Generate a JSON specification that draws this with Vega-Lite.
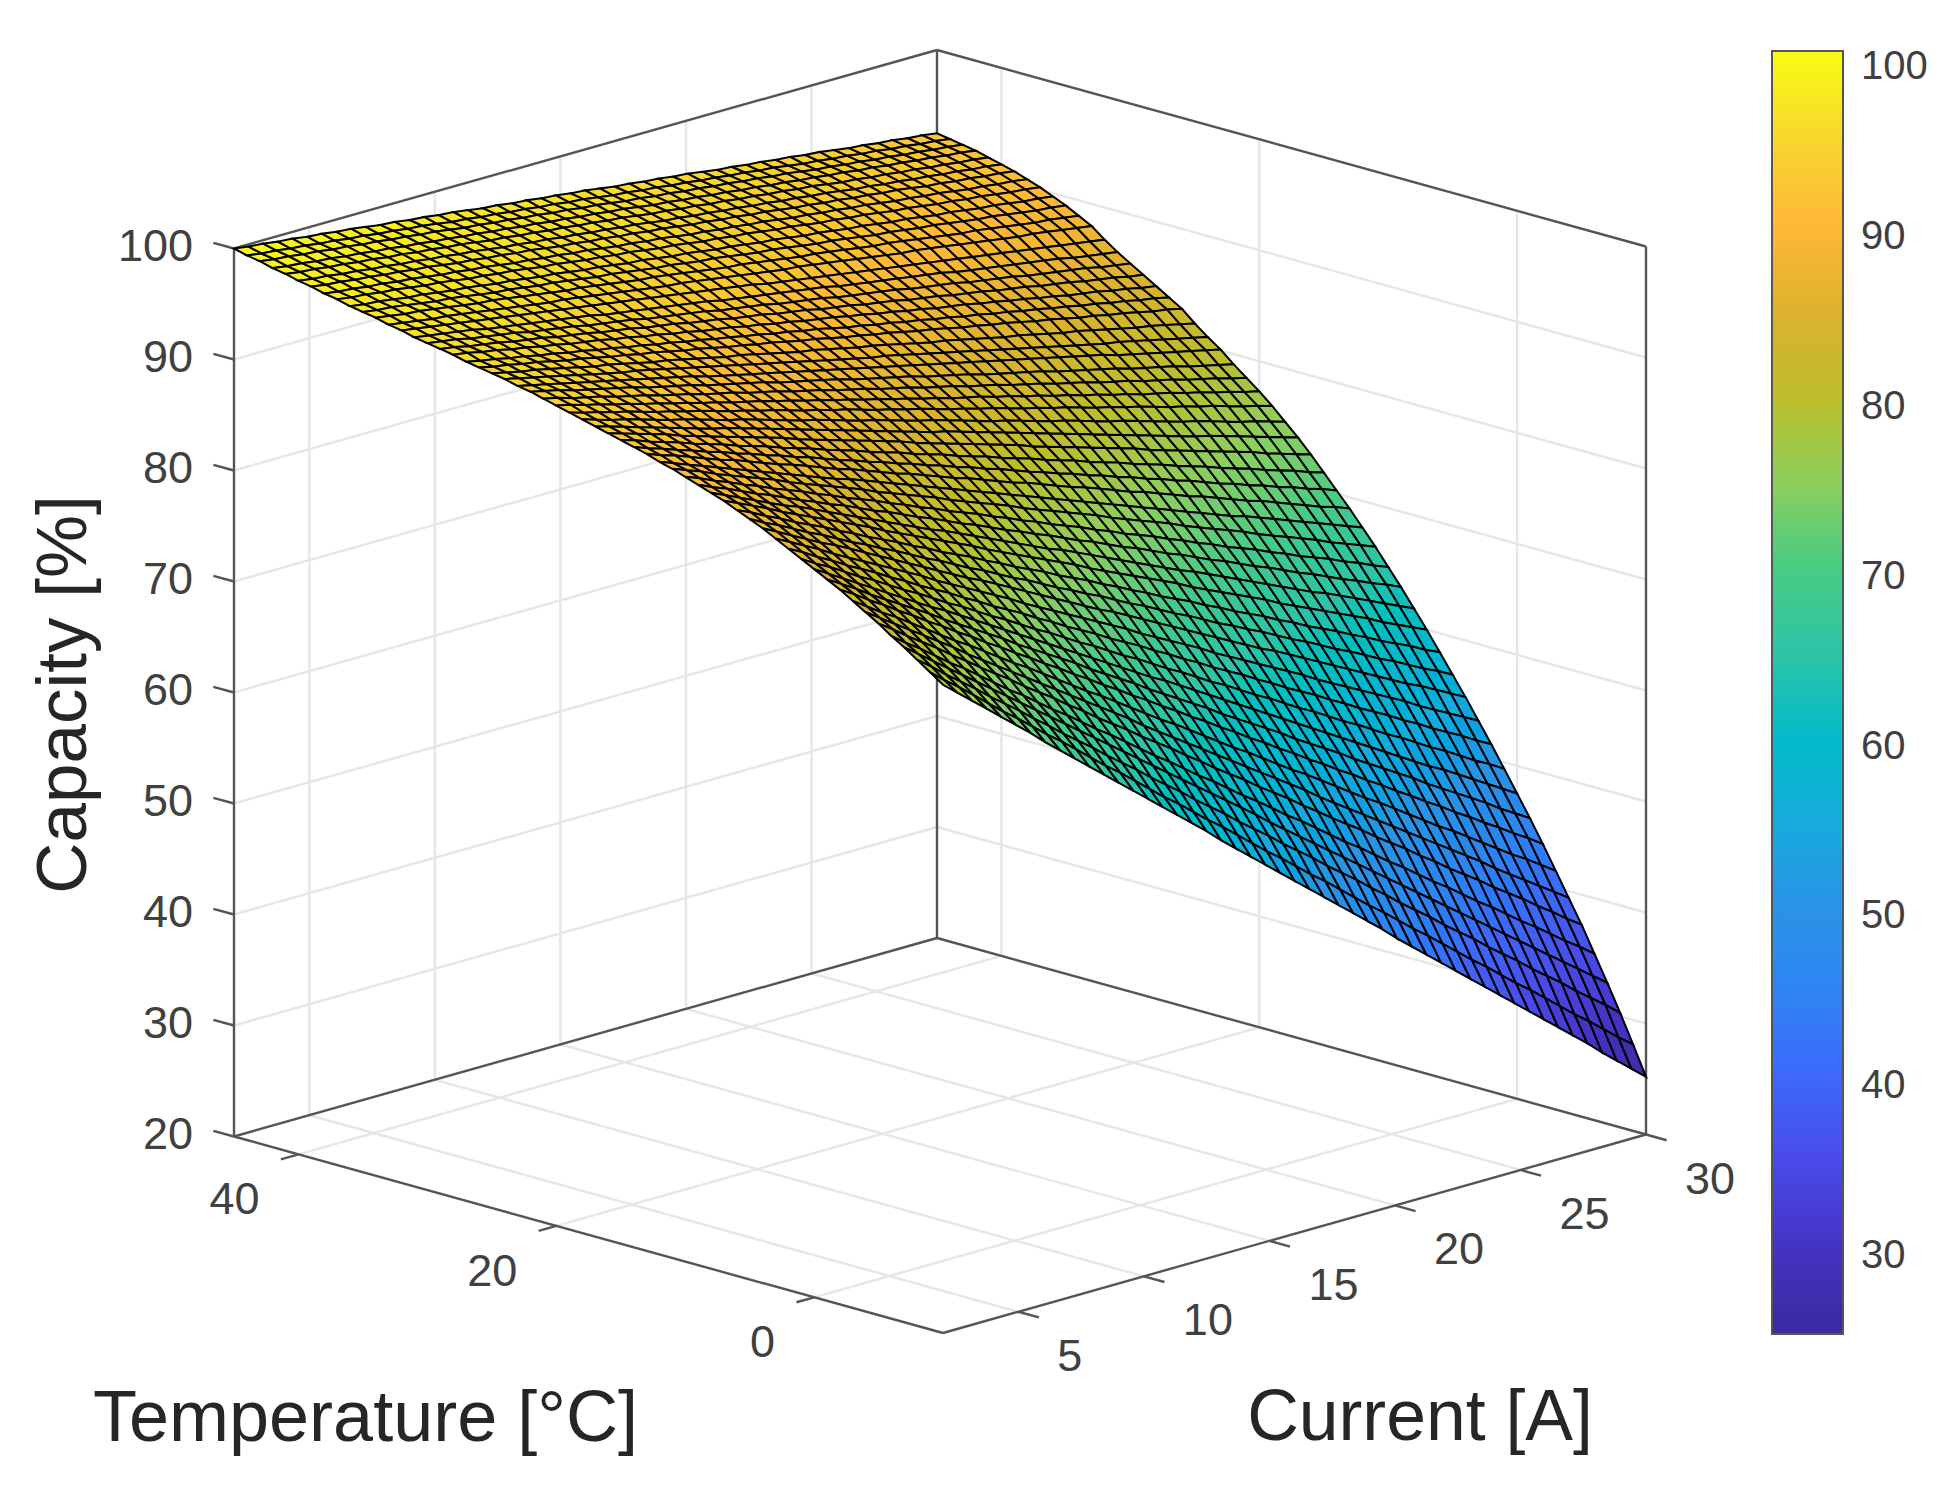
{"$schema":"https://vega.github.io/schema/vega-lite/v6.json","width":1953,"height":1488,"autosize":{"type":"fit","contains":"padding"},"padding":0,"background":"white","config":{"view":{"stroke":null},"font":"Liberation Sans"},"encoding":{"x":{"field":"px","type":"quantitative","scale":{"domain":[0,1953],"nice":false,"zero":false},"axis":null},"y":{"field":"py","type":"quantitative","scale":{"domain":[1488,0],"nice":false,"zero":false},"axis":null}},"layer":[{"data":{"values":[{"T":45,"I":2,"Z":30,"T2":45,"I2":30,"Z2":30,"kind":"grid"},{"T":45,"I":30,"Z":30,"T2":-10,"I2":30,"Z2":30,"kind":"grid"},{"T":45,"I":2,"Z":40,"T2":45,"I2":30,"Z2":40,"kind":"grid"},{"T":45,"I":30,"Z":40,"T2":-10,"I2":30,"Z2":40,"kind":"grid"},{"T":45,"I":2,"Z":50,"T2":45,"I2":30,"Z2":50,"kind":"grid"},{"T":45,"I":30,"Z":50,"T2":-10,"I2":30,"Z2":50,"kind":"grid"},{"T":45,"I":2,"Z":60,"T2":45,"I2":30,"Z2":60,"kind":"grid"},{"T":45,"I":30,"Z":60,"T2":-10,"I2":30,"Z2":60,"kind":"grid"},{"T":45,"I":2,"Z":70,"T2":45,"I2":30,"Z2":70,"kind":"grid"},{"T":45,"I":30,"Z":70,"T2":-10,"I2":30,"Z2":70,"kind":"grid"},{"T":45,"I":2,"Z":80,"T2":45,"I2":30,"Z2":80,"kind":"grid"},{"T":45,"I":30,"Z":80,"T2":-10,"I2":30,"Z2":80,"kind":"grid"},{"T":45,"I":2,"Z":90,"T2":45,"I2":30,"Z2":90,"kind":"grid"},{"T":45,"I":30,"Z":90,"T2":-10,"I2":30,"Z2":90,"kind":"grid"},{"T":45,"I":5,"Z":20,"T2":45,"I2":5,"Z2":100,"kind":"grid"},{"T":45,"I":5,"Z":20,"T2":-10,"I2":5,"Z2":20,"kind":"grid"},{"T":45,"I":10,"Z":20,"T2":45,"I2":10,"Z2":100,"kind":"grid"},{"T":45,"I":10,"Z":20,"T2":-10,"I2":10,"Z2":20,"kind":"grid"},{"T":45,"I":15,"Z":20,"T2":45,"I2":15,"Z2":100,"kind":"grid"},{"T":45,"I":15,"Z":20,"T2":-10,"I2":15,"Z2":20,"kind":"grid"},{"T":45,"I":20,"Z":20,"T2":45,"I2":20,"Z2":100,"kind":"grid"},{"T":45,"I":20,"Z":20,"T2":-10,"I2":20,"Z2":20,"kind":"grid"},{"T":45,"I":25,"Z":20,"T2":45,"I2":25,"Z2":100,"kind":"grid"},{"T":45,"I":25,"Z":20,"T2":-10,"I2":25,"Z2":20,"kind":"grid"},{"T":40,"I":2,"Z":20,"T2":40,"I2":30,"Z2":20,"kind":"grid"},{"T":40,"I":30,"Z":20,"T2":40,"I2":30,"Z2":100,"kind":"grid"},{"T":20,"I":2,"Z":20,"T2":20,"I2":30,"Z2":20,"kind":"grid"},{"T":20,"I":30,"Z":20,"T2":20,"I2":30,"Z2":100,"kind":"grid"},{"T":0,"I":2,"Z":20,"T2":0,"I2":30,"Z2":20,"kind":"grid"},{"T":0,"I":30,"Z":20,"T2":0,"I2":30,"Z2":100,"kind":"grid"},{"T":45,"I":2,"Z":20,"T2":45,"I2":2,"Z2":100,"kind":"box"},{"T":45,"I":30,"Z":20,"T2":45,"I2":30,"Z2":100,"kind":"box"},{"T":-10,"I":30,"Z":20,"T2":-10,"I2":30,"Z2":100,"kind":"box"},{"T":45,"I":2,"Z":20,"T2":-10,"I2":2,"Z2":20,"kind":"box"},{"T":-10,"I":2,"Z":20,"T2":-10,"I2":30,"Z2":20,"kind":"box"},{"T":45,"I":2,"Z":20,"T2":45,"I2":30,"Z2":20,"kind":"box"},{"T":45,"I":30,"Z":20,"T2":-10,"I2":30,"Z2":20,"kind":"box"},{"T":45,"I":2,"Z":100,"T2":45,"I2":30,"Z2":100,"kind":"box"},{"T":45,"I":30,"Z":100,"T2":-10,"I2":30,"Z2":100,"kind":"box"},{"T":45,"I":2,"Z":20,"T2":46.6,"I2":2,"Z2":20,"kind":"box"},{"T":45,"I":2,"Z":30,"T2":46.6,"I2":2,"Z2":30,"kind":"box"},{"T":45,"I":2,"Z":40,"T2":46.6,"I2":2,"Z2":40,"kind":"box"},{"T":45,"I":2,"Z":50,"T2":46.6,"I2":2,"Z2":50,"kind":"box"},{"T":45,"I":2,"Z":60,"T2":46.6,"I2":2,"Z2":60,"kind":"box"},{"T":45,"I":2,"Z":70,"T2":46.6,"I2":2,"Z2":70,"kind":"box"},{"T":45,"I":2,"Z":80,"T2":46.6,"I2":2,"Z2":80,"kind":"box"},{"T":45,"I":2,"Z":90,"T2":46.6,"I2":2,"Z2":90,"kind":"box"},{"T":45,"I":2,"Z":100,"T2":46.6,"I2":2,"Z2":100,"kind":"box"},{"T":40,"I":2,"Z":20,"T2":40,"I2":1.3,"Z2":20,"kind":"box"},{"T":20,"I":2,"Z":20,"T2":20,"I2":1.3,"Z2":20,"kind":"box"},{"T":0,"I":2,"Z":20,"T2":0,"I2":1.3,"Z2":20,"kind":"box"},{"T":-10,"I":5,"Z":20,"T2":-11.6,"I2":5,"Z2":20,"kind":"box"},{"T":-10,"I":10,"Z":20,"T2":-11.6,"I2":10,"Z2":20,"kind":"box"},{"T":-10,"I":15,"Z":20,"T2":-11.6,"I2":15,"Z2":20,"kind":"box"},{"T":-10,"I":20,"Z":20,"T2":-11.6,"I2":20,"Z2":20,"kind":"box"},{"T":-10,"I":25,"Z":20,"T2":-11.6,"I2":25,"Z2":20,"kind":"box"},{"T":-10,"I":30,"Z":20,"T2":-11.6,"I2":30,"Z2":20,"kind":"box"}]},"transform":[{"calculate":"234+12.891*(45-datum.T)+25.107*(datum.I-2)","as":"px"},{"calculate":"1136.5+3.573*(45-datum.T)-7.089*(datum.I-2)-11.1*(datum.Z-20)","as":"py"},{"calculate":"234+12.891*(45-datum.T2)+25.107*(datum.I2-2)","as":"qx"},{"calculate":"1136.5+3.573*(45-datum.T2)-7.089*(datum.I2-2)-11.1*(datum.Z2-20)","as":"qy"}],"mark":{"type":"rule","strokeWidth":2.4},"encoding":{"x2":{"field":"qx"},"y2":{"field":"qy"},"color":{"field":"kind","type":"nominal","legend":null,"scale":{"domain":["grid","box"],"range":["#e6e6e6","#555555"]}}}},{"data":{"values":[{"T":45,"I":2,"Z":20},{"T":45,"I":2,"Z":30},{"T":45,"I":2,"Z":40},{"T":45,"I":2,"Z":50},{"T":45,"I":2,"Z":60},{"T":45,"I":2,"Z":70},{"T":45,"I":2,"Z":80},{"T":45,"I":2,"Z":90},{"T":45,"I":2,"Z":100}]},"transform":[{"calculate":"234+12.891*(45-datum.T)+25.107*(datum.I-2)","as":"px"},{"calculate":"1136.5+3.573*(45-datum.T)-7.089*(datum.I-2)-11.1*(datum.Z-20)","as":"py"}],"mark":{"type":"text","align":"right","baseline":"middle","dx":-41,"dy":-2,"fontSize":45,"color":"#404040"},"encoding":{"text":{"field":"Z","type":"nominal"}}},{"data":{"values":[{"T":40,"I":2,"Z":20},{"T":20,"I":2,"Z":20},{"T":0,"I":2,"Z":20}]},"transform":[{"calculate":"234+12.891*(45-datum.T)+25.107*(datum.I-2)","as":"px"},{"calculate":"1136.5+3.573*(45-datum.T)-7.089*(datum.I-2)-11.1*(datum.Z-20)","as":"py"}],"mark":{"type":"text","align":"right","baseline":"middle","dx":-39,"dy":46,"fontSize":45,"color":"#404040"},"encoding":{"text":{"field":"T","type":"nominal"}}},{"data":{"values":[{"T":-10,"I":5,"Z":20},{"T":-10,"I":10,"Z":20},{"T":-10,"I":15,"Z":20},{"T":-10,"I":20,"Z":20},{"T":-10,"I":25,"Z":20},{"T":-10,"I":30,"Z":20}]},"transform":[{"calculate":"234+12.891*(45-datum.T)+25.107*(datum.I-2)","as":"px"},{"calculate":"1136.5+3.573*(45-datum.T)-7.089*(datum.I-2)-11.1*(datum.Z-20)","as":"py"}],"mark":{"type":"text","align":"left","baseline":"middle","dx":39,"dy":45,"fontSize":45,"color":"#404040"},"encoding":{"text":{"field":"I","type":"nominal"}}},{"data":{"values":[{"T":17.5,"I":2,"Z":20,"label":"Temperature [°C]"}]},"transform":[{"calculate":"234+12.891*(45-datum.T)+25.107*(datum.I-2)","as":"px"},{"calculate":"1136.5+3.573*(45-datum.T)-7.089*(datum.I-2)-11.1*(datum.Z-20)","as":"py"}],"mark":{"type":"text","align":"center","baseline":"middle","dx":-223,"dy":184,"fontSize":72,"color":"#262626"},"encoding":{"text":{"field":"label","type":"nominal"}}},{"data":{"values":[{"T":-10,"I":16,"Z":20,"label":"Current [A]"}]},"transform":[{"calculate":"234+12.891*(45-datum.T)+25.107*(datum.I-2)","as":"px"},{"calculate":"1136.5+3.573*(45-datum.T)-7.089*(datum.I-2)-11.1*(datum.Z-20)","as":"py"}],"mark":{"type":"text","align":"center","baseline":"middle","dx":125.5,"dy":185,"fontSize":71.5,"color":"#262626"},"encoding":{"text":{"field":"label","type":"nominal"}}},{"data":{"values":[{"T":45,"I":2,"Z":60,"label":"Capacity [%]"}]},"transform":[{"calculate":"234+12.891*(45-datum.T)+25.107*(datum.I-2)","as":"px"},{"calculate":"1136.5+3.573*(45-datum.T)-7.089*(datum.I-2)-11.1*(datum.Z-20)","as":"py"}],"mark":{"type":"text","align":"center","baseline":"middle","angle":270,"dx":-2,"dy":-169,"fontSize":71,"color":"#262626"},"encoding":{"text":{"field":"label","type":"nominal"}}},{"data":{"values":[
{"j":0,"T":45,"z":[100,99.8,99.7,99.5,99.4,99.2,99.1,98.9,98.8,98.6,98.4,98.3,98.1,98,97.8,97.7,97.5,97.3,97.2,97,96.9,96.7,96.6,96.4,96.3,96.1,95.9,95.8,95.6,95.5,95.3,95.2,95,94.8,94.7,94.5,94.4,94.2,94.1,93.9,93.8,93.6,93.4,93.3,93.1,93,92.8,92.7,92.5]},
{"j":1,"T":44,"z":[99.7,99.5,99.4,99.2,99.1,98.9,98.8,98.6,98.5,98.3,98.2,98,97.9,97.7,97.5,97.4,97.2,97.1,96.9,96.8,96.6,96.5,96.3,96.2,96,95.8,95.7,95.5,95.4,95.2,95.1,94.9,94.8,94.6,94.5,94.3,94.2,94,93.8,93.7,93.5,93.4,93.2,93.1,92.9,92.8,92.6,92.5,92.3]},
{"j":2,"T":43,"z":[99.5,99.3,99.2,99,98.9,98.7,98.6,98.4,98.3,98.1,98,97.8,97.7,97.5,97.3,97.2,97,96.9,96.7,96.6,96.4,96.3,96.1,96,95.8,95.6,95.5,95.3,95.2,95,94.9,94.7,94.6,94.4,94.3,94.1,94,93.8,93.6,93.5,93.3,93.2,93,92.9,92.7,92.6,92.4,92.3,92.1]},
{"j":3,"T":42,"z":[99.2,99,98.9,98.7,98.6,98.4,98.3,98.1,98,97.8,97.7,97.5,97.4,97.2,97.1,96.9,96.8,96.6,96.5,96.3,96.2,96,95.9,95.7,95.6,95.4,95.2,95.1,94.9,94.8,94.6,94.5,94.3,94.2,94,93.9,93.7,93.6,93.4,93.3,93.1,93,92.8,92.7,92.5,92.4,92.2,92.1,91.9]},
{"j":4,"T":41,"z":[99,98.8,98.7,98.5,98.4,98.2,98.1,97.9,97.8,97.6,97.5,97.3,97.2,97,96.8,96.7,96.5,96.4,96.2,96.1,95.9,95.8,95.6,95.5,95.3,95.1,95,94.8,94.7,94.5,94.4,94.2,94.1,93.9,93.8,93.6,93.5,93.3,93.1,93,92.8,92.7,92.5,92.4,92.2,92.1,91.9,91.8,91.6]},
{"j":5,"T":40,"z":[98.7,98.5,98.4,98.2,98.1,97.9,97.8,97.6,97.5,97.3,97.2,97,96.9,96.7,96.5,96.4,96.2,96.1,95.9,95.8,95.6,95.5,95.3,95.2,95,94.8,94.7,94.5,94.4,94.2,94.1,93.9,93.8,93.6,93.5,93.3,93.2,93,92.8,92.7,92.5,92.4,92.2,92.1,91.9,91.8,91.6,91.5,91.3]},
{"j":6,"T":39,"z":[98.5,98.3,98.2,98,97.9,97.7,97.6,97.4,97.3,97.1,96.9,96.8,96.6,96.5,96.3,96.2,96,95.8,95.7,95.5,95.4,95.2,95.1,94.9,94.8,94.6,94.4,94.3,94.1,94,93.8,93.7,93.5,93.3,93.2,93,92.9,92.7,92.6,92.4,92.3,92.1,91.9,91.8,91.6,91.5,91.3,91.2,91]},
{"j":7,"T":38,"z":[98.2,98,97.9,97.7,97.6,97.4,97.3,97.1,96.9,96.8,96.6,96.5,96.3,96.1,96,95.8,95.7,95.5,95.4,95.2,95,94.9,94.7,94.6,94.4,94.2,94.1,93.9,93.8,93.6,93.5,93.3,93.1,93,92.8,92.7,92.5,92.4,92.2,92,91.9,91.7,91.6,91.4,91.2,91.1,90.9,90.8,90.6]},
{"j":8,"T":37,"z":[98,97.8,97.7,97.5,97.4,97.2,97,96.9,96.7,96.5,96.4,96.2,96.1,95.9,95.7,95.6,95.4,95.2,95.1,94.9,94.8,94.6,94.4,94.3,94.1,93.9,93.8,93.6,93.5,93.3,93.1,93,92.8,92.6,92.5,92.3,92.2,92,91.8,91.7,91.5,91.3,91.2,91,90.9,90.7,90.5,90.4,90.2]},
{"j":9,"T":36,"z":[97.7,97.5,97.4,97.2,97,96.9,96.7,96.5,96.4,96.2,96,95.9,95.7,95.5,95.4,95.2,95,94.9,94.7,94.5,94.4,94.2,94,93.9,93.7,93.5,93.4,93.2,93,92.9,92.7,92.5,92.4,92.2,92,91.9,91.7,91.5,91.4,91.2,91,90.9,90.7,90.5,90.4,90.2,90,89.9,89.7]},
{"j":10,"T":35,"z":[97.5,97.3,97.2,97,96.8,96.6,96.5,96.3,96.1,95.9,95.8,95.6,95.4,95.3,95.1,94.9,94.7,94.6,94.4,94.2,94,93.9,93.7,93.5,93.4,93.2,93,92.8,92.7,92.5,92.3,92.1,92,91.8,91.6,91.4,91.3,91.1,90.9,90.8,90.6,90.4,90.2,90.1,89.9,89.7,89.5,89.4,89.2]},
{"j":11,"T":34,"z":[97.3,97.1,96.9,96.8,96.6,96.4,96.2,96,95.9,95.7,95.5,95.3,95.1,94.9,94.8,94.6,94.4,94.2,94,93.9,93.7,93.5,93.3,93.1,92.9,92.8,92.6,92.4,92.2,92,91.9,91.7,91.5,91.3,91.1,91,90.8,90.6,90.4,90.2,90,89.9,89.7,89.5,89.3,89.1,89,88.8,88.6]},
{"j":12,"T":33,"z":[97,96.8,96.6,96.4,96.3,96.1,95.9,95.7,95.5,95.3,95.1,94.9,94.8,94.6,94.4,94.2,94,93.8,93.6,93.4,93.3,93.1,92.9,92.7,92.5,92.3,92.1,91.9,91.8,91.6,91.4,91.2,91,90.8,90.6,90.4,90.3,90.1,89.9,89.7,89.5,89.3,89.1,88.9,88.8,88.6,88.4,88.2,88]},
{"j":13,"T":32,"z":[96.8,96.6,96.4,96.2,96,95.8,95.6,95.4,95.2,95,94.8,94.6,94.4,94.2,94,93.8,93.6,93.4,93.2,93,92.8,92.6,92.4,92.2,92,91.7,91.5,91.3,91.1,90.9,90.7,90.5,90.3,90.1,89.9,89.7,89.5,89.3,89.1,88.9,88.7,88.5,88.3,88.1,87.9,87.7,87.5,87.3,87.1]},
{"j":14,"T":31,"z":[96.5,96.3,96.1,95.9,95.7,95.4,95.2,95,94.8,94.6,94.4,94.2,94,93.7,93.5,93.3,93.1,92.9,92.7,92.5,92.3,92,91.8,91.6,91.4,91.2,91,90.8,90.6,90.3,90.1,89.9,89.7,89.5,89.3,89.1,88.9,88.6,88.4,88.2,88,87.8,87.6,87.4,87.2,86.9,86.7,86.5,86.3]},
{"j":15,"T":30,"z":[96.3,96.1,95.9,95.6,95.4,95.2,95,94.7,94.5,94.3,94.1,93.8,93.6,93.4,93.2,92.9,92.7,92.5,92.3,92.1,91.8,91.6,91.4,91.2,90.9,90.7,90.5,90.3,90,89.8,89.6,89.4,89.2,88.9,88.7,88.5,88.3,88,87.8,87.6,87.4,87.1,86.9,86.7,86.5,86.3,86,85.8,85.6]},
{"j":16,"T":29,"z":[96.1,95.9,95.6,95.4,95.2,94.9,94.7,94.5,94.2,94,93.8,93.5,93.3,93.1,92.8,92.6,92.4,92.1,91.9,91.7,91.4,91.2,91,90.7,90.5,90.3,90,89.8,89.6,89.3,89.1,88.9,88.6,88.4,88.2,87.9,87.7,87.5,87.2,87,86.8,86.5,86.3,86.1,85.8,85.6,85.4,85.1,84.9]},
{"j":17,"T":28,"z":[95.9,95.7,95.4,95.2,94.9,94.7,94.4,94.2,93.9,93.7,93.5,93.2,93,92.7,92.5,92.2,92,91.7,91.5,91.3,91,90.8,90.5,90.3,90,89.8,89.6,89.3,89.1,88.8,88.6,88.3,88.1,87.8,87.6,87.4,87.1,86.9,86.6,86.4,86.1,85.9,85.6,85.4,85.2,84.9,84.7,84.4,84.2]},
{"j":18,"T":27,"z":[95.6,95.3,95.1,94.8,94.6,94.3,94.1,93.8,93.6,93.3,93.1,92.8,92.6,92.3,92.1,91.8,91.6,91.3,91.1,90.8,90.6,90.3,90.1,89.8,89.6,89.3,89,88.8,88.5,88.3,88,87.8,87.5,87.3,87,86.8,86.5,86.3,86,85.8,85.5,85.3,85,84.8,84.5,84.3,84,83.8,83.5]},
{"j":19,"T":26,"z":[95.4,95.1,94.9,94.6,94.4,94.1,93.8,93.6,93.3,93,92.8,92.5,92.3,92,91.7,91.5,91.2,90.9,90.7,90.4,90.2,89.9,89.6,89.4,89.1,88.8,88.6,88.3,88.1,87.8,87.5,87.3,87,86.7,86.5,86.2,86,85.7,85.4,85.2,84.9,84.6,84.4,84.1,83.9,83.6,83.3,83.1,82.8]},
{"j":20,"T":25,"z":[95.2,94.9,94.6,94.4,94.1,93.8,93.5,93.2,93,92.7,92.4,92.1,91.9,91.6,91.3,91,90.7,90.5,90.2,89.9,89.6,89.3,89.1,88.8,88.5,88.2,88,87.7,87.4,87.1,86.8,86.6,86.3,86,85.7,85.4,85.2,84.9,84.6,84.3,84.1,83.8,83.5,83.2,82.9,82.7,82.4,82.1,81.8]},
{"j":21,"T":24,"z":[95,94.7,94.4,94.1,93.8,93.5,93.2,92.9,92.6,92.4,92.1,91.8,91.5,91.2,90.9,90.6,90.3,90,89.7,89.4,89.1,88.8,88.5,88.2,87.9,87.6,87.4,87.1,86.8,86.5,86.2,85.9,85.6,85.3,85,84.7,84.4,84.1,83.8,83.5,83.2,82.9,82.7,82.4,82.1,81.8,81.5,81.2,80.9]},
{"j":22,"T":23,"z":[94.7,94.4,94.1,93.8,93.5,93.2,92.9,92.6,92.3,92,91.7,91.4,91.1,90.7,90.4,90.1,89.8,89.5,89.2,88.9,88.6,88.3,88,87.7,87.4,87.1,86.8,86.5,86.2,85.9,85.6,85.3,85,84.7,84.4,84.1,83.8,83.5,83.2,82.9,82.6,82.2,81.9,81.6,81.3,81,80.7,80.4,80.1]},
{"j":23,"T":22,"z":[94.5,94.2,93.9,93.5,93.2,92.9,92.6,92.3,91.9,91.6,91.3,91,90.6,90.3,90,89.7,89.4,89,88.7,88.4,88.1,87.8,87.4,87.1,86.8,86.5,86.2,85.8,85.5,85.2,84.9,84.5,84.2,83.9,83.6,83.3,82.9,82.6,82.3,82,81.7,81.3,81,80.7,80.4,80,79.7,79.4,79.1]},
{"j":24,"T":21,"z":[94.2,93.9,93.5,93.2,92.9,92.5,92.2,91.9,91.5,91.2,90.9,90.5,90.2,89.9,89.5,89.2,88.9,88.5,88.2,87.9,87.5,87.2,86.9,86.5,86.2,85.9,85.5,85.2,84.9,84.5,84.2,83.9,83.5,83.2,82.9,82.5,82.2,81.9,81.5,81.2,80.9,80.5,80.2,79.9,79.5,79.2,78.9,78.5,78.2]},
{"j":25,"T":20,"z":[93.9,93.6,93.2,92.9,92.5,92.2,91.8,91.5,91.1,90.8,90.4,90.1,89.7,89.4,89.1,88.7,88.4,88,87.7,87.3,87,86.6,86.3,85.9,85.6,85.2,84.9,84.5,84.2,83.9,83.5,83.2,82.8,82.5,82.1,81.8,81.4,81.1,80.7,80.4,80,79.7,79.4,79,78.7,78.3,78,77.6,77.3]},
{"j":26,"T":19,"z":[93.6,93.2,92.9,92.5,92.2,91.8,91.4,91.1,90.7,90.4,90,89.6,89.3,88.9,88.6,88.2,87.8,87.5,87.1,86.8,86.4,86,85.7,85.3,85,84.6,84.2,83.9,83.5,83.2,82.8,82.4,82.1,81.7,81.4,81,80.6,80.3,79.9,79.6,79.2,78.8,78.5,78.1,77.8,77.4,77,76.7,76.3]},
{"j":27,"T":18,"z":[93.3,92.9,92.5,92.2,91.8,91.4,91,90.7,90.3,89.9,89.5,89.2,88.8,88.4,88,87.6,87.3,86.9,86.5,86.1,85.8,85.4,85,84.6,84.3,83.9,83.5,83.1,82.7,82.4,82,81.6,81.2,80.9,80.5,80.1,79.7,79.4,79,78.6,78.2,77.8,77.5,77.1,76.7,76.3,76,75.6,75.2]},
{"j":28,"T":17,"z":[93,92.6,92.2,91.8,91.4,91,90.6,90.2,89.8,89.5,89.1,88.7,88.3,87.9,87.5,87.1,86.7,86.3,85.9,85.5,85.1,84.7,84.3,83.9,83.6,83.2,82.8,82.4,82,81.6,81.2,80.8,80.4,80,79.6,79.2,78.8,78.4,78,77.6,77.2,76.8,76.5,76.1,75.7,75.3,74.9,74.5,74.1]},
{"j":29,"T":16,"z":[92.7,92.3,91.9,91.5,91.1,90.6,90.2,89.8,89.4,89,88.6,88.2,87.8,87.3,86.9,86.5,86.1,85.7,85.3,84.9,84.5,84,83.6,83.2,82.8,82.4,82,81.6,81.2,80.7,80.3,79.9,79.5,79.1,78.7,78.3,77.9,77.4,77,76.6,76.2,75.8,75.4,75,74.6,74.1,73.7,73.3,72.9]},
{"j":30,"T":15,"z":[92.4,92,91.5,91.1,90.7,90.2,89.8,89.4,88.9,88.5,88.1,87.6,87.2,86.8,86.3,85.9,85.5,85,84.6,84.2,83.7,83.3,82.9,82.4,82,81.6,81.1,80.7,80.3,79.8,79.4,79,78.5,78.1,77.7,77.2,76.8,76.4,75.9,75.5,75.1,74.6,74.2,73.8,73.3,72.9,72.5,72,71.6]},
{"j":31,"T":14,"z":[92.1,91.6,91.2,90.7,90.3,89.8,89.4,88.9,88.5,88,87.6,87.1,86.7,86.2,85.7,85.3,84.8,84.4,83.9,83.5,83,82.6,82.1,81.7,81.2,80.8,80.3,79.8,79.4,78.9,78.5,78,77.6,77.1,76.7,76.2,75.8,75.3,74.9,74.4,73.9,73.5,73,72.6,72.1,71.7,71.2,70.8,70.3]},
{"j":32,"T":13,"z":[91.8,91.3,90.9,90.4,89.9,89.4,89,88.5,88,87.5,87.1,86.6,86.1,85.6,85.2,84.7,84.2,83.7,83.3,82.8,82.3,81.8,81.4,80.9,80.4,79.9,79.5,79,78.5,78,77.6,77.1,76.6,76.1,75.7,75.2,74.7,74.2,73.8,73.3,72.8,72.3,71.9,71.4,70.9,70.4,69.9,69.5,69]},
{"j":33,"T":12,"z":[91.4,90.9,90.4,89.9,89.4,88.9,88.4,87.9,87.4,86.9,86.4,85.9,85.4,85,84.5,84,83.5,83,82.5,82,81.5,81,80.5,80,79.5,79,78.5,78,77.5,77,76.5,76,75.5,75,74.5,74,73.5,73,72.5,72,71.6,71.1,70.6,70.1,69.6,69.1,68.6,68.1,67.6]},
{"j":34,"T":11,"z":[91.1,90.6,90.1,89.5,89,88.5,88,87.5,86.9,86.4,85.9,85.4,84.9,84.4,83.8,83.3,82.8,82.3,81.8,81.2,80.7,80.2,79.7,79.2,78.6,78.1,77.6,77.1,76.6,76.1,75.5,75,74.5,74,73.5,72.9,72.4,71.9,71.4,70.9,70.3,69.8,69.3,68.8,68.3,67.7,67.2,66.7,66.2]},
{"j":35,"T":10,"z":[90.7,90.2,89.6,89.1,88.5,88,87.4,86.9,86.4,85.8,85.3,84.7,84.2,83.7,83.1,82.6,82,81.5,80.9,80.4,79.9,79.3,78.8,78.2,77.7,77.1,76.6,76.1,75.5,75,74.4,73.9,73.4,72.8,72.3,71.7,71.2,70.6,70.1,69.6,69,68.5,67.9,67.4,66.9,66.3,65.8,65.2,64.7]},
{"j":36,"T":9,"z":[90.3,89.7,89.2,88.6,88,87.5,86.9,86.3,85.8,85.2,84.7,84.1,83.5,83,82.4,81.8,81.3,80.7,80.1,79.6,79,78.4,77.9,77.3,76.8,76.2,75.6,75.1,74.5,73.9,73.4,72.8,72.2,71.7,71.1,70.5,70,69.4,68.8,68.3,67.7,67.1,66.6,66,65.4,64.9,64.3,63.8,63.2]},
{"j":37,"T":8,"z":[89.9,89.3,88.7,88.1,87.5,86.9,86.4,85.8,85.2,84.6,84,83.4,82.8,82.2,81.6,81,80.5,79.9,79.3,78.7,78.1,77.5,76.9,76.3,75.8,75.2,74.6,74,73.4,72.8,72.2,71.6,71,70.5,69.9,69.3,68.7,68.1,67.5,66.9,66.3,65.7,65.2,64.6,64,63.4,62.8,62.2,61.6]},
{"j":38,"T":7,"z":[89.5,88.9,88.3,87.7,87,86.4,85.8,85.2,84.6,84,83.4,82.7,82.1,81.5,80.9,80.3,79.7,79.1,78.4,77.8,77.2,76.6,76,75.4,74.8,74.1,73.5,72.9,72.3,71.7,71.1,70.5,69.8,69.2,68.6,68,67.4,66.8,66.1,65.5,64.9,64.3,63.7,63.1,62.5,61.8,61.2,60.6,60]},
{"j":39,"T":6,"z":[89,88.4,87.7,87.1,86.4,85.8,85.2,84.5,83.9,83.2,82.6,82,81.3,80.7,80,79.4,78.8,78.1,77.5,76.8,76.2,75.6,74.9,74.3,73.7,73,72.4,71.7,71.1,70.4,69.8,69.2,68.5,67.9,67.2,66.6,66,65.3,64.7,64,63.4,62.8,62.1,61.5,60.8,60.2,59.6,58.9,58.3]},
{"j":40,"T":5,"z":[88.5,87.8,87.2,86.5,85.8,85.2,84.5,83.8,83.2,82.5,81.9,81.2,80.5,79.9,79.2,78.5,77.9,77.2,76.5,75.9,75.2,74.5,73.9,73.2,72.6,71.9,71.2,70.6,69.9,69.2,68.6,67.9,67.2,66.6,65.9,65.3,64.6,63.9,63.3,62.6,61.9,61.3,60.6,59.9,59.3,58.6,57.9,57.3,56.6]},
{"j":41,"T":4,"z":[88,87.3,86.6,85.9,85.2,84.6,83.9,83.2,82.5,81.8,81.1,80.4,79.7,79,78.3,77.7,77,76.3,75.6,74.9,74.2,73.5,72.8,72.1,71.5,70.8,70.1,69.4,68.7,68,67.3,66.6,65.9,65.2,64.5,63.9,63.2,62.5,61.8,61.1,60.4,59.7,59,58.3,57.6,57,56.3,55.6,54.9]},
{"j":42,"T":3,"z":[87.4,86.7,86,85.3,84.5,83.8,83.1,82.4,81.7,81,80.3,79.5,78.8,78.1,77.4,76.7,76,75.2,74.5,73.8,73.1,72.4,71.7,71,70.3,69.5,68.8,68.1,67.4,66.7,65.9,65.2,64.5,63.8,63.1,62.4,61.7,60.9,60.2,59.5,58.8,58.1,57.4,56.7,55.9,55.2,54.5,53.8,53.1]},
{"j":43,"T":2,"z":[86.8,86.1,85.3,84.6,83.8,83.1,82.4,81.6,80.9,80.1,79.4,78.7,77.9,77.2,76.4,75.7,75,74.2,73.5,72.7,72,71.3,70.5,69.8,69.1,68.3,67.6,66.8,66.1,65.3,64.6,63.9,63.1,62.4,61.6,60.9,60.2,59.4,58.7,57.9,57.2,56.5,55.7,55,54.2,53.5,52.8,52,51.3]},
{"j":44,"T":1,"z":[86.2,85.4,84.7,83.9,83.1,82.4,81.6,80.8,80.1,79.3,78.5,77.8,77,76.2,75.5,74.7,73.9,73.2,72.4,71.6,70.9,70.1,69.3,68.6,67.8,67,66.3,65.5,64.7,64,63.2,62.4,61.7,60.9,60.1,59.4,58.6,57.8,57.1,56.3,55.5,54.8,54,53.2,52.5,51.7,50.9,50.2,49.4]},
{"j":45,"T":0,"z":[85.6,84.8,84,83.2,82.4,81.6,80.8,80,79.2,78.5,77.7,76.9,76.1,75.3,74.5,73.7,72.9,72.1,71.3,70.5,69.7,68.9,68.1,67.3,66.6,65.8,65,64.2,63.4,62.6,61.8,61,60.2,59.4,58.6,57.8,57,56.2,55.4,54.6,53.8,53,52.2,51.5,50.7,49.9,49.1,48.3,47.5]},
{"j":46,"T":-1,"z":[85,84.2,83.4,82.5,81.7,80.9,80.1,79.3,78.4,77.6,76.8,76,75.2,74.3,73.5,72.7,71.9,71.1,70.2,69.4,68.6,67.8,66.9,66.1,65.3,64.5,63.7,62.8,62,61.2,60.4,59.6,58.7,57.9,57.1,56.3,55.4,54.6,53.8,53,52.2,51.3,50.5,49.7,48.9,48.1,47.2,46.4,45.6]},
{"j":47,"T":-2,"z":[84.4,83.6,82.7,81.9,81,80.2,79.3,78.5,77.6,76.8,75.9,75.1,74.2,73.4,72.5,71.7,70.8,70,69.1,68.3,67.4,66.6,65.7,64.9,64,63.2,62.3,61.5,60.6,59.8,58.9,58.1,57.2,56.4,55.5,54.7,53.8,53,52.1,51.3,50.4,49.6,48.7,47.9,47,46.2,45.3,44.5,43.6]},
{"j":48,"T":-3,"z":[83.7,82.8,81.9,81.1,80.2,79.3,78.4,77.5,76.7,75.8,74.9,74,73.2,72.3,71.4,70.5,69.6,68.8,67.9,67,66.1,65.2,64.4,63.5,62.6,61.7,60.8,60,59.1,58.2,57.3,56.5,55.6,54.7,53.8,52.9,52.1,51.2,50.3,49.4,48.5,47.7,46.8,45.9,45,44.1,43.3,42.4,41.5]},
{"j":49,"T":-4,"z":[83,82.1,81.2,80.3,79.4,78.5,77.6,76.6,75.7,74.8,73.9,73,72.1,71.2,70.3,69.4,68.5,67.6,66.7,65.7,64.8,63.9,63,62.1,61.2,60.3,59.4,58.5,57.6,56.7,55.8,54.8,53.9,53,52.1,51.2,50.3,49.4,48.5,47.6,46.7,45.8,44.9,43.9,43,42.1,41.2,40.3,39.4]},
{"j":50,"T":-5,"z":[82.3,81.4,80.4,79.5,78.6,77.6,76.7,75.7,74.8,73.9,72.9,72,71.1,70.1,69.2,68.2,67.3,66.4,65.4,64.5,63.6,62.6,61.7,60.7,59.8,58.9,57.9,57,56.1,55.1,54.2,53.2,52.3,51.4,50.4,49.5,48.6,47.6,46.7,45.7,44.8,43.9,42.9,42,41.1,40.1,39.2,38.2,37.3]},
{"j":51,"T":-6,"z":[81.5,80.5,79.6,78.6,77.6,76.7,75.7,74.7,73.7,72.8,71.8,70.8,69.9,68.9,67.9,67,66,65,64,63.1,62.1,61.1,60.2,59.2,58.2,57.3,56.3,55.3,54.4,53.4,52.4,51.4,50.5,49.5,48.5,47.6,46.6,45.6,44.7,43.7,42.7,41.8,40.8,39.8,38.9,37.9,36.9,36,35]},
{"j":52,"T":-7,"z":[80.8,79.8,78.8,77.8,76.8,75.8,74.8,73.8,72.8,71.8,70.8,69.8,68.8,67.8,66.8,65.8,64.8,63.8,62.8,61.8,60.8,59.8,58.8,57.8,56.8,55.7,54.7,53.7,52.7,51.7,50.7,49.7,48.7,47.7,46.7,45.7,44.7,43.7,42.7,41.7,40.7,39.7,38.7,37.7,36.7,35.7,34.7,33.7,32.7]},
{"j":53,"T":-8,"z":[80,79,77.9,76.9,75.9,74.8,73.8,72.8,71.7,70.7,69.6,68.6,67.6,66.5,65.5,64.5,63.4,62.4,61.4,60.3,59.3,58.3,57.2,56.2,55.2,54.1,53.1,52.1,51,50,49,47.9,46.9,45.8,44.8,43.8,42.7,41.7,40.7,39.6,38.6,37.6,36.5,35.5,34.5,33.4,32.4,31.4,30.3]},
{"j":54,"T":-9,"z":[79.2,78.1,77.1,76,74.9,73.8,72.8,71.7,70.6,69.6,68.5,67.4,66.3,65.3,64.2,63.1,62,61,59.9,58.8,57.8,56.7,55.6,54.5,53.5,52.4,51.3,50.3,49.2,48.1,47,46,44.9,43.8,42.8,41.7,40.6,39.5,38.5,37.4,36.3,35.3,34.2,33.1,32,31,29.9,28.8,27.8]},
{"j":55,"T":-10,"z":[78.4,77.3,76.2,75.1,74,72.9,71.8,70.6,69.5,68.4,67.3,66.2,65.1,64,62.9,61.8,60.7,59.6,58.5,57.3,56.2,55.1,54,52.9,51.8,50.7,49.6,48.5,47.4,46.3,45.2,44,42.9,41.8,40.7,39.6,38.5,37.4,36.3,35.2,34.1,33,31.9,30.8,29.7,28.5,27.4,26.3,25.2]}
]},"transform":[{"flatten":["z"]},{"window":[{"op":"row_number","as":"k"}],"groupby":["j"]},{"calculate":"2+(datum.k-1)*28/48","as":"I"},{"calculate":"[0,1,2,3]","as":"c"},{"flatten":["c"]},{"calculate":"datum.j-((datum.c==1||datum.c==2)?1:0)","as":"qj"},{"calculate":"datum.k-1-((datum.c==2||datum.c==3)?1:0)","as":"qk"},{"filter":"datum.qj>=0&&datum.qj<55&&datum.qk>=0&&datum.qk<48"},{"calculate":"datum.qj*100+datum.qk","as":"q"},{"joinaggregate":[{"op":"mean","field":"z","as":"capacity"}],"groupby":["q"]},{"calculate":"234+12.891*(45-datum.T)+25.107*(datum.I-2)","as":"px"},{"calculate":"1136.5+3.573*(45-datum.T)-7.089*(datum.I-2)-11.1*(datum.z-20)","as":"py"}],"mark":{"type":"line","interpolate":"linear-closed","stroke":"black","strokeWidth":2},"encoding":{"detail":{"field":"q"},"order":{"field":"c"},"fill":{"field":"capacity","type":"quantitative","scale":{"domain":[24.9,30,35,40,45,50,55,60,65,70,75,80,85,90,95,100.4],"range":["#3b2a9f","#4433c4","#4a4ae8","#3d68fb","#2f84f3","#2a93e6","#16abdc","#03bbc9","#2fc4a6","#48cb84","#8ccf5c","#bcbd2d","#dcb22e","#ffb736","#f7d62e","#f9fb15"]},"legend":{"orient":"none","legendX":1772,"legendY":51,"title":null,"direction":"vertical","gradientLength":1283,"gradientThickness":71,"gradientStrokeColor":"#555555","gradientStrokeWidth":2,"values":[30,40,50,60,70,80,90,100],"labelFontSize":40,"labelColor":"#404040","labelOffset":18,"labelFont":"Liberation Sans","encoding":{"labels":{"dy":{"value":9}}}}}}},{"data":{"values":[{"v":30},{"v":40},{"v":50},{"v":60},{"v":70},{"v":80},{"v":90},{"v":100}]},"transform":[{"calculate":"51+(100.4-datum.v)*16.99","as":"py"},{"calculate":"1831","as":"px"},{"calculate":"1842","as":"qx"}],"mark":{"type":"rule","color":"#333333","strokeWidth":2},"encoding":{"x2":{"field":"qx"},"y2":{"field":"py"}}}]}
